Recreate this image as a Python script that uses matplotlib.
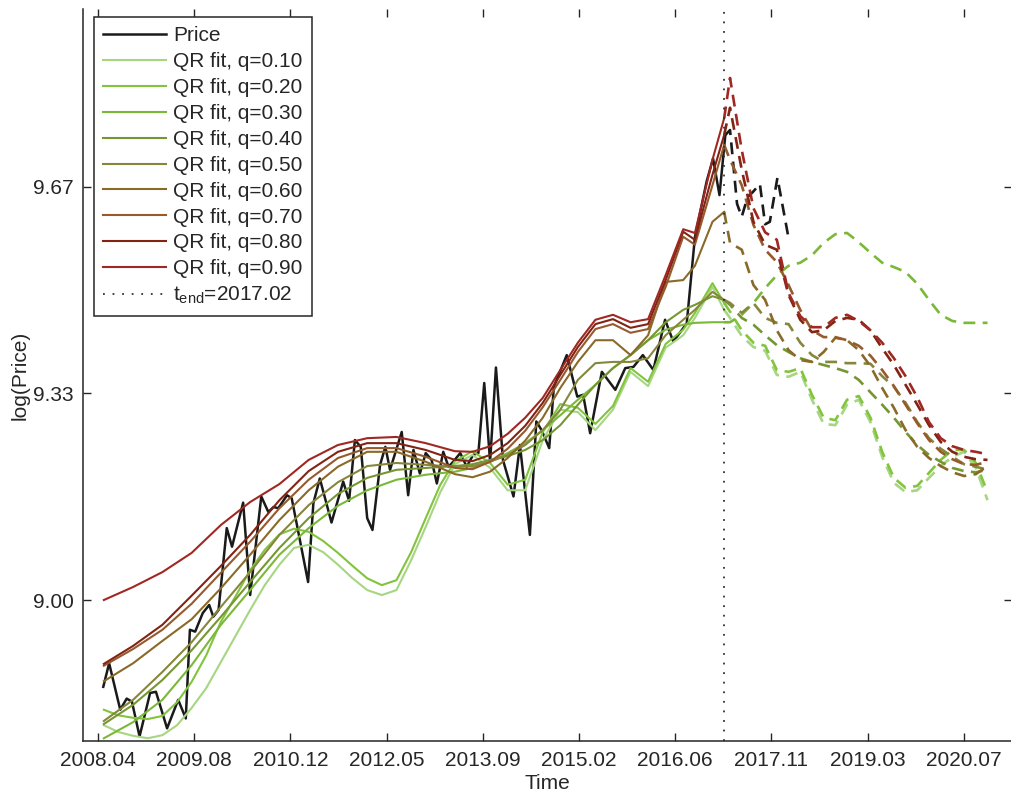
import matplotlib.pyplot as plt
import numpy as np

plt.rcParams['font.family'] = ['Liberation Sans', 'DejaVu Sans']
plt.rcParams['mathtext.fontset'] = 'custom'
plt.rcParams['mathtext.rm'] = 'Liberation Sans'
plt.rcParams['font.size'] = 15
plt.rcParams['text.color'] = '#262626'
plt.rcParams['axes.labelcolor'] = '#262626'

# x axis: months since 2008.04
tick_labels = ['2008.04', '2009.08', '2010.12', '2012.05', '2013.09',
               '2015.02', '2016.06', '2017.11', '2019.03', '2020.07']
tick_step = 16.44
t_end = 107

# log price, in-sample
price_t = [0.9, 1.9, 3.8, 4.9, 5.8, 7.1, 8.9, 9.9, 11.8, 13.7, 15.0, 15.7, 16.6, 17.9,
           19.0, 19.7, 20.6, 22.0, 22.9, 24.8, 26.0, 27.9, 29.1, 30.0, 30.8, 32.3, 33.1,
           35.9, 36.8, 37.9, 39.9, 41.9, 42.9, 43.9, 44.9, 46.0, 46.9, 48.2, 49.1, 49.9,
           51.9, 53.0, 53.9, 55.0, 56.0, 57.0, 57.9, 59.0, 59.9, 60.7, 61.9, 63.0, 64.1,
           65.0, 66.0, 67.0, 68.0, 69.2, 71.0, 72.1, 73.8, 74.9, 75.8, 77.1, 77.9, 80.1,
           81.9, 82.9, 84.1, 86.1, 88.4, 90.1, 91.5, 93.1, 94.9, 96.9, 98.3, 100.6, 102.0,
           104.0, 105.1, 106.2, 107.2]
price = [8.860, 8.898, 8.823, 8.841, 8.836, 8.780, 8.850, 8.852, 8.793, 8.839, 8.809,
         8.952, 8.949, 8.979, 8.992, 8.973, 8.984, 9.116, 9.086, 9.157, 9.008, 9.167,
         9.142, 9.150, 9.148, 9.169, 9.164, 9.029, 9.156, 9.196, 9.125, 9.191, 9.160,
         9.258, 9.247, 9.132, 9.113, 9.218, 9.247, 9.210, 9.271, 9.169, 9.242, 9.204,
         9.237, 9.226, 9.188, 9.239, 9.215, 9.223, 9.237, 9.215, 9.234, 9.237, 9.350,
         9.223, 9.375, 9.226, 9.167, 9.250, 9.105, 9.288, 9.274, 9.245, 9.344, 9.395,
         9.328, 9.331, 9.269, 9.368, 9.339, 9.374, 9.376, 9.395, 9.371, 9.452, 9.417,
         9.446, 9.585, 9.675, 9.712, 9.653, 9.750]

# log price after t_end
price_fut_t = [107.2, 108.0, 109.2, 110.0, 111.0, 111.9, 113.1, 114.0, 114.8, 116.1, 117.9]
price_fut = [9.750, 9.758, 9.639, 9.618, 9.650, 9.658, 9.671, 9.606, 9.610, 9.681, 9.589]

# quantile regression fits (in-sample)
fit_t = [1, 6, 11, 16, 21, 26, 31, 36, 41, 46, 51, 56, 61, 64, 67, 70, 73, 76, 79, 82,
         85, 88, 91, 94, 97, 100, 102, 105, 107]
fit_t_low = [1, 3.5, 6, 8.5, 11, 13.5, 16, 18.5, 21, 23.5, 26, 28.5, 31, 33.5, 36, 38.5,
             41, 43.5, 46, 48.5, 51, 53.5, 56, 58.5, 61, 64, 67, 70, 73, 76, 79, 82,
             85, 88, 91, 94, 97, 100, 102, 105, 107]
fit_q10 = [8.798, 8.787, 8.781, 8.777, 8.782, 8.798, 8.826, 8.858, 8.900, 8.942, 8.984,
           9.024, 9.057, 9.084, 9.089, 9.077, 9.057, 9.035, 9.016, 9.008, 9.016, 9.064,
           9.118, 9.174, 9.219, 9.234, 9.213, 9.177, 9.177, 9.258, 9.307, 9.303, 9.274,
           9.307, 9.368, 9.345, 9.407, 9.427, 9.455, 9.505, 9.468]
fit_q20 = [8.823, 8.814, 8.810, 8.808, 8.813, 8.835, 8.868, 8.911, 8.965, 9.006, 9.048,
           9.081, 9.106, 9.115, 9.110, 9.095, 9.076, 9.055, 9.035, 9.024, 9.032, 9.077,
           9.132, 9.186, 9.224, 9.240, 9.221, 9.186, 9.194, 9.271, 9.316, 9.310, 9.284,
           9.313, 9.374, 9.352, 9.413, 9.436, 9.463, 9.511, 9.479]
fit_q30 = [8.777, 8.803, 8.839, 8.895, 8.960, 9.016, 9.073, 9.116, 9.152, 9.177, 9.194,
           9.202, 9.207, 9.213, 9.223, 9.237, 9.253, 9.274, 9.298, 9.323, 9.347, 9.374,
           9.395, 9.419, 9.436, 9.444, 9.447, 9.448, 9.448]
fit_q40 = [8.800, 8.831, 8.871, 8.919, 8.973, 9.029, 9.084, 9.132, 9.171, 9.197, 9.210,
           9.213, 9.216, 9.219, 9.226, 9.232, 9.242, 9.258, 9.282, 9.315, 9.347, 9.374,
           9.395, 9.419, 9.448, 9.468, 9.476, 9.490, 9.484]
fit_q50 = [8.805, 8.839, 8.884, 8.932, 8.989, 9.045, 9.105, 9.153, 9.190, 9.216, 9.221,
           9.218, 9.215, 9.216, 9.223, 9.234, 9.250, 9.274, 9.307, 9.355, 9.382, 9.384,
           9.384, 9.390, 9.427, 9.452, 9.468, 9.497, 9.484]
fit_q60 = [8.869, 8.898, 8.934, 8.969, 9.019, 9.073, 9.129, 9.177, 9.215, 9.239, 9.239,
           9.223, 9.203, 9.198, 9.207, 9.229, 9.257, 9.294, 9.342, 9.384, 9.419, 9.419,
           9.395, 9.427, 9.513, 9.516, 9.539, 9.610, 9.626]
fit_q70 = [8.894, 8.921, 8.952, 8.994, 9.044, 9.094, 9.148, 9.194, 9.229, 9.245, 9.245,
           9.231, 9.213, 9.211, 9.223, 9.244, 9.273, 9.311, 9.355, 9.400, 9.437, 9.445,
           9.431, 9.437, 9.505, 9.586, 9.573, 9.669, 9.734]
fit_q80 = [8.897, 8.926, 8.960, 9.007, 9.055, 9.105, 9.161, 9.208, 9.239, 9.253, 9.253,
           9.242, 9.226, 9.224, 9.234, 9.253, 9.281, 9.318, 9.363, 9.408, 9.445, 9.453,
           9.439, 9.445, 9.516, 9.594, 9.581, 9.686, 9.750]
fit_q90 = [9.000, 9.021, 9.045, 9.076, 9.121, 9.158, 9.187, 9.226, 9.250, 9.261, 9.263,
           9.253, 9.240, 9.239, 9.248, 9.268, 9.294, 9.326, 9.371, 9.415, 9.452, 9.460,
           9.448, 9.453, 9.524, 9.598, 9.592, 9.710, 9.777]

# quantile regression extrapolation (after t_end)
fc_t = [107, 108, 110, 112, 114, 116, 118, 120, 122, 124, 126, 128, 130, 132, 134, 136,
        138, 140, 142, 144, 146, 148, 150, 152]
fc_q10 = [9.468, 9.455, 9.426, 9.408, 9.402, 9.363, 9.360, 9.368, 9.323, 9.284, 9.282,
          9.315, 9.323, 9.287, 9.231, 9.189, 9.174, 9.177, 9.197, 9.216, 9.231, 9.239,
          9.213, 9.161]
fc_q20 = [9.479, 9.465, 9.435, 9.415, 9.410, 9.371, 9.368, 9.374, 9.331, 9.294, 9.290,
          9.323, 9.329, 9.294, 9.239, 9.197, 9.181, 9.184, 9.205, 9.226, 9.242, 9.242,
          9.221, 9.174]
fc_q30 = [9.448, 9.448, 9.460, 9.479, 9.503, 9.524, 9.539, 9.544, 9.556, 9.576, 9.590,
          9.592, 9.577, 9.560, 9.544, 9.537, 9.529, 9.510, 9.484, 9.460, 9.450, 9.447,
          9.447, 9.447]
fc_q40 = [9.484, 9.476, 9.455, 9.444, 9.427, 9.411, 9.400, 9.390, 9.384, 9.379, 9.374,
          9.368, 9.355, 9.335, 9.315, 9.294, 9.271, 9.250, 9.234, 9.223, 9.213, 9.208,
          9.206, 9.210]
fc_q50 = [9.484, 9.479, 9.463, 9.479, 9.455, 9.447, 9.445, 9.415, 9.395, 9.384, 9.384,
          9.382, 9.382, 9.381, 9.361, 9.344, 9.318, 9.287, 9.261, 9.244, 9.231, 9.219,
          9.215, 9.210]
fc_q60 = [9.626, 9.576, 9.565, 9.508, 9.484, 9.435, 9.403, 9.387, 9.384, 9.400, 9.423,
          9.419, 9.403, 9.377, 9.342, 9.310, 9.274, 9.247, 9.229, 9.216, 9.206, 9.200,
          9.203, 9.216]
fc_q70 = [9.734, 9.710, 9.669, 9.605, 9.565, 9.545, 9.508, 9.468, 9.435, 9.424, 9.424,
          9.419, 9.410, 9.394, 9.371, 9.345, 9.315, 9.285, 9.258, 9.239, 9.227, 9.219,
          9.218, 9.223]
fc_q80 = [9.750, 9.794, 9.694, 9.610, 9.573, 9.565, 9.492, 9.452, 9.432, 9.435, 9.450,
          9.455, 9.452, 9.435, 9.406, 9.379, 9.347, 9.315, 9.282, 9.255, 9.239, 9.231,
          9.227, 9.226]
fc_q90 = [9.777, 9.842, 9.726, 9.632, 9.593, 9.581, 9.495, 9.458, 9.440, 9.440, 9.455,
          9.460, 9.450, 9.435, 9.415, 9.390, 9.361, 9.327, 9.287, 9.261, 9.248, 9.242,
          9.239, 9.235]

quantiles = [0.1, 0.2, 0.3, 0.4, 0.5, 0.6, 0.7, 0.8, 0.9]
colors = ['#a6d682', '#82c43c', '#7ab838', '#769632', '#86863c',
          '#8a6a28', '#965a2d', '#822314', '#a02823']
fit_times = [fit_t_low, fit_t_low] + [fit_t] * 7
fits = [fit_q10, fit_q20, fit_q30, fit_q40, fit_q50, fit_q60, fit_q70, fit_q80, fit_q90]
forecasts = [fc_q10, fc_q20, fc_q30, fc_q40, fc_q50, fc_q60, fc_q70, fc_q80, fc_q90]

fig = plt.figure(figsize=(10.12, 7.95), dpi=100)
ax = fig.add_axes([83.5 / 1012, 54 / 795, 928 / 1012, 732 / 795])

handles = []
h, = ax.plot(price_t, price, color='#1a1a1a', lw=1.8, label='Price')
handles.append(h)
ax.plot(price_fut_t, price_fut, color='#1a1a1a', lw=1.9, dashes=(4.5, 2.8))

for q, c, ft, f, fc in zip(quantiles, colors, fit_times, fits, forecasts):
    h, = ax.plot(ft, f, color=c, lw=1.5, label='QR fit, q=%.2f' % q)
    handles.append(h)
    ax.plot(fc_t, fc, color=c, lw=1.9, dashes=(4.5, 2.8))

h = ax.axvline(t_end, color='#333333', lw=1.3, ls=(0, (1, 4.3)),
               label=r'$\mathregular{t_{end}}$=2017.02')
handles.append(h)

ax.set_xlim(-2.48, 156.1)
ax.set_ylim(8.7726, 9.9532)
ax.set_xticks(np.arange(len(tick_labels)) * tick_step)
ax.set_xticklabels(tick_labels)
ax.set_yticks([9.0, 9 + 1 / 3, 9 + 2 / 3])
ax.set_yticklabels(['9.00', '9.33', '9.67'])
ax.tick_params(direction='in', length=6, width=1, top=True, right=True,
               colors='#262626', labelsize=15, pad=7)
for s in ax.spines.values():
    s.set_linewidth(1.1)
    s.set_color('#262626')
ax.spines['top'].set_visible(False)
ax.spines['right'].set_visible(False)

ax.set_xlabel('Time', fontsize=15, labelpad=3)
ax.set_ylabel('log(Price)', fontsize=15, labelpad=2)

leg = ax.legend(handles=handles, loc='upper left', bbox_to_anchor=(0.011, 0.989),
                borderaxespad=0, fontsize=15, frameon=True, fancybox=False,
                framealpha=1, edgecolor='#262626', handlelength=3.0,
                handletextpad=0.35, labelspacing=0.33, borderpad=0.45)
leg.get_frame().set_linewidth(1.1)

fig.savefig('out.png', dpi=100)
